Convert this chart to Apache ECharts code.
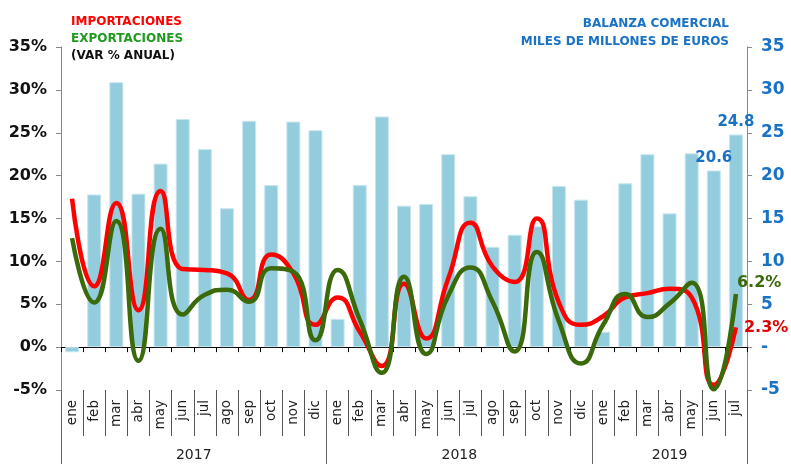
<!DOCTYPE html>
<html><head><meta charset="utf-8">
<script src="https://cdn.jsdelivr.net/npm/echarts@6/dist/echarts.min.js"></script>
<style>html,body{margin:0;padding:0;background:#fff}#c{width:791px;height:464px}</style>
</head><body><div id="c"></div>
<script>
const months = ['ene','feb','mar','abr','may','jun','jul','ago','sep','oct','nov','dic',
  'ene','feb','mar','abr','may','jun','jul','ago','sep','oct','nov','dic',
  'ene','feb','mar','abr','may','jun','jul'];
const years = ['2017','2018','2019'];
const monthsPerYear = [12, 12, 7];
const balanza = [-0.6,17.8,30.9,17.9,21.4,26.6,23.1,16.2,26.4,18.9,26.3,25.3,
  3.3,18.9,26.9,16.5,16.7,22.5,17.6,11.7,13.1,14.1,18.8,17.2,
  1.8,19.1,22.5,15.6,22.6,20.6,24.8];
const importaciones = [17.3,7.1,16.8,4.3,18.2,9.1,9.0,8.6,5.5,10.8,8.6,2.6,
  5.8,1.8,-2.2,7.4,1.0,8.0,14.5,9.4,7.6,15.0,5.2,2.6,
  3.6,5.8,6.3,6.8,5.8,-4.4,2.3];
const exportaciones = [12.7,5.2,14.7,-1.6,13.8,3.8,6.1,6.7,5.3,9.2,8.8,0.8,
  9.0,3.2,-3.0,8.2,-0.8,6.0,9.3,5.3,-0.5,11.1,3.0,-1.9,
  2.6,6.2,3.5,5.1,7.5,-4.9,6.2];
const labeledBars = [29, 30];

const FONT = 'DejaVu Sans';
const BLUE = '#1a72c4';
const GREEN_LINE = '#3a6a0a';
const RED = '#ff0000';

const yearBounds = [0];
monthsPerYear.forEach((n, i) => yearBounds.push(yearBounds[i] + n));
const yearCenters = monthsPerYear.map((n, i) => yearBounds[i] + n / 2);

const chart = echarts.init(document.getElementById('c'), null, {renderer: 'canvas'});
chart.setOption({
  animation: false,
  backgroundColor: '#fff',
  textStyle: {fontFamily: FONT},
  title: [
    {text: '{r|IMPORTACIONES}\n{g|EXPORTACIONES}\n{k|(VAR % ANUAL)}', left: 66, top: 8,
     textStyle: {rich: {
       r: {color: '#ff0000', fontWeight: 'bold', fontSize: 12, fontFamily: FONT, lineHeight: 17},
       g: {color: '#1f9a1f', fontWeight: 'bold', fontSize: 12, fontFamily: FONT, lineHeight: 17},
       k: {color: '#111', fontWeight: 'bold', fontSize: 12, fontFamily: FONT, lineHeight: 17}}}},
    {text: '{a|BALANZA COMERCIAL}\n{a|MILES DE MILLONES DE EUROS}', right: 57, top: 10,
     textStyle: {rich: {a: {color: BLUE, fontWeight: 'bold', fontSize: 12, fontFamily: FONT, lineHeight: 18, align: 'right'}}}}
  ],
  grid: {left: 61, right: 44, top: 47, bottom: 74, containLabel: false},
  xAxis: [
    {type: 'category', data: months, boundaryGap: true,
     axisLine: {onZero: true, lineStyle: {color: '#000', width: 1.2}},
     axisTick: {show: true, interval: 0, length: 5, lineStyle: {color: '#000'}},
     axisLabel: {show: false}, splitLine: {show: false}},
    {type: 'category', data: months, boundaryGap: true, position: 'bottom',
     axisLine: {show: false, onZero: false},
     axisTick: {show: true, interval: 0, length: 46, lineStyle: {color: '#555'}},
     axisLabel: {show: true, interval: 0, rotate: 90, margin: 10, color: '#222', fontSize: 13.5, fontFamily: FONT},
     splitLine: {show: false}},
    {type: 'value', min: 0, max: monthsPerYear.reduce((a, b) => a + b, 0), position: 'bottom',
     axisLine: {show: false, onZero: false},
     axisTick: {show: true, customValues: yearBounds, length: 74, lineStyle: {color: '#666'}},
     axisLabel: {show: true, customValues: yearCenters, margin: 58, color: '#222', fontSize: 14, fontFamily: FONT,
       formatter: v => years[yearCenters.indexOf(v)] || ''},
     splitLine: {show: false}}
  ],
  yAxis: [
    {type: 'value', min: -5, max: 35, interval: 5, position: 'left',
     axisLine: {show: true, lineStyle: {color: '#888'}},
     axisTick: {show: true, length: 5, lineStyle: {color: '#888'}},
     axisLabel: {formatter: v => v + '%', color: '#111', fontWeight: 'bold', fontSize: 16, fontFamily: FONT, margin: 14},
     splitLine: {show: false}},
    {type: 'value', min: -5, max: 35, interval: 5, position: 'right',
     axisLine: {show: true, lineStyle: {color: '#888'}},
     axisTick: {show: true, length: 5, lineStyle: {color: '#888'}},
     axisLabel: {formatter: v => v === 0 ? '-' : String(v), color: BLUE, fontWeight: 'bold', fontSize: 17, fontFamily: FONT, margin: 14},
     splitLine: {show: false}}
  ],
  series: [
    {type: 'bar', name: 'Balanza', xAxisIndex: 0, yAxisIndex: 1, data: balanza, barWidth: 14,
     itemStyle: {color: '#93cddd', borderColor: '#c8e6ee', borderWidth: 1},
     label: {show: true, position: 'top', distance: 5, color: BLUE, fontWeight: 'bold', fontSize: 15, fontFamily: FONT,
       formatter: p => labeledBars.includes(p.dataIndex) ? p.value.toFixed(1) : ''},
     z: 1},
    {type: 'line', name: 'Importaciones', xAxisIndex: 0, yAxisIndex: 0, data: importaciones, smooth: 0.55,
     symbol: 'none', lineStyle: {color: RED, width: 4.5}, itemStyle: {color: RED},
     endLabel: {show: true, distance: 8, color: '#e00000', fontWeight: 'bold', fontSize: 16, fontFamily: FONT,
       formatter: p => p.value.toFixed(1) + '%'},
     z: 3},
    {type: 'line', name: 'Exportaciones', xAxisIndex: 0, yAxisIndex: 0, data: exportaciones, smooth: 0.55,
     symbol: 'none', lineStyle: {color: GREEN_LINE, width: 4.5}, itemStyle: {color: GREEN_LINE},
     endLabel: {show: true, distance: 1, offset: [0, -11], color: GREEN_LINE, fontWeight: 'bold', fontSize: 16, fontFamily: FONT,
       formatter: p => p.value.toFixed(1) + '%'},
     z: 4}
  ]
});
</script>
</body></html>
